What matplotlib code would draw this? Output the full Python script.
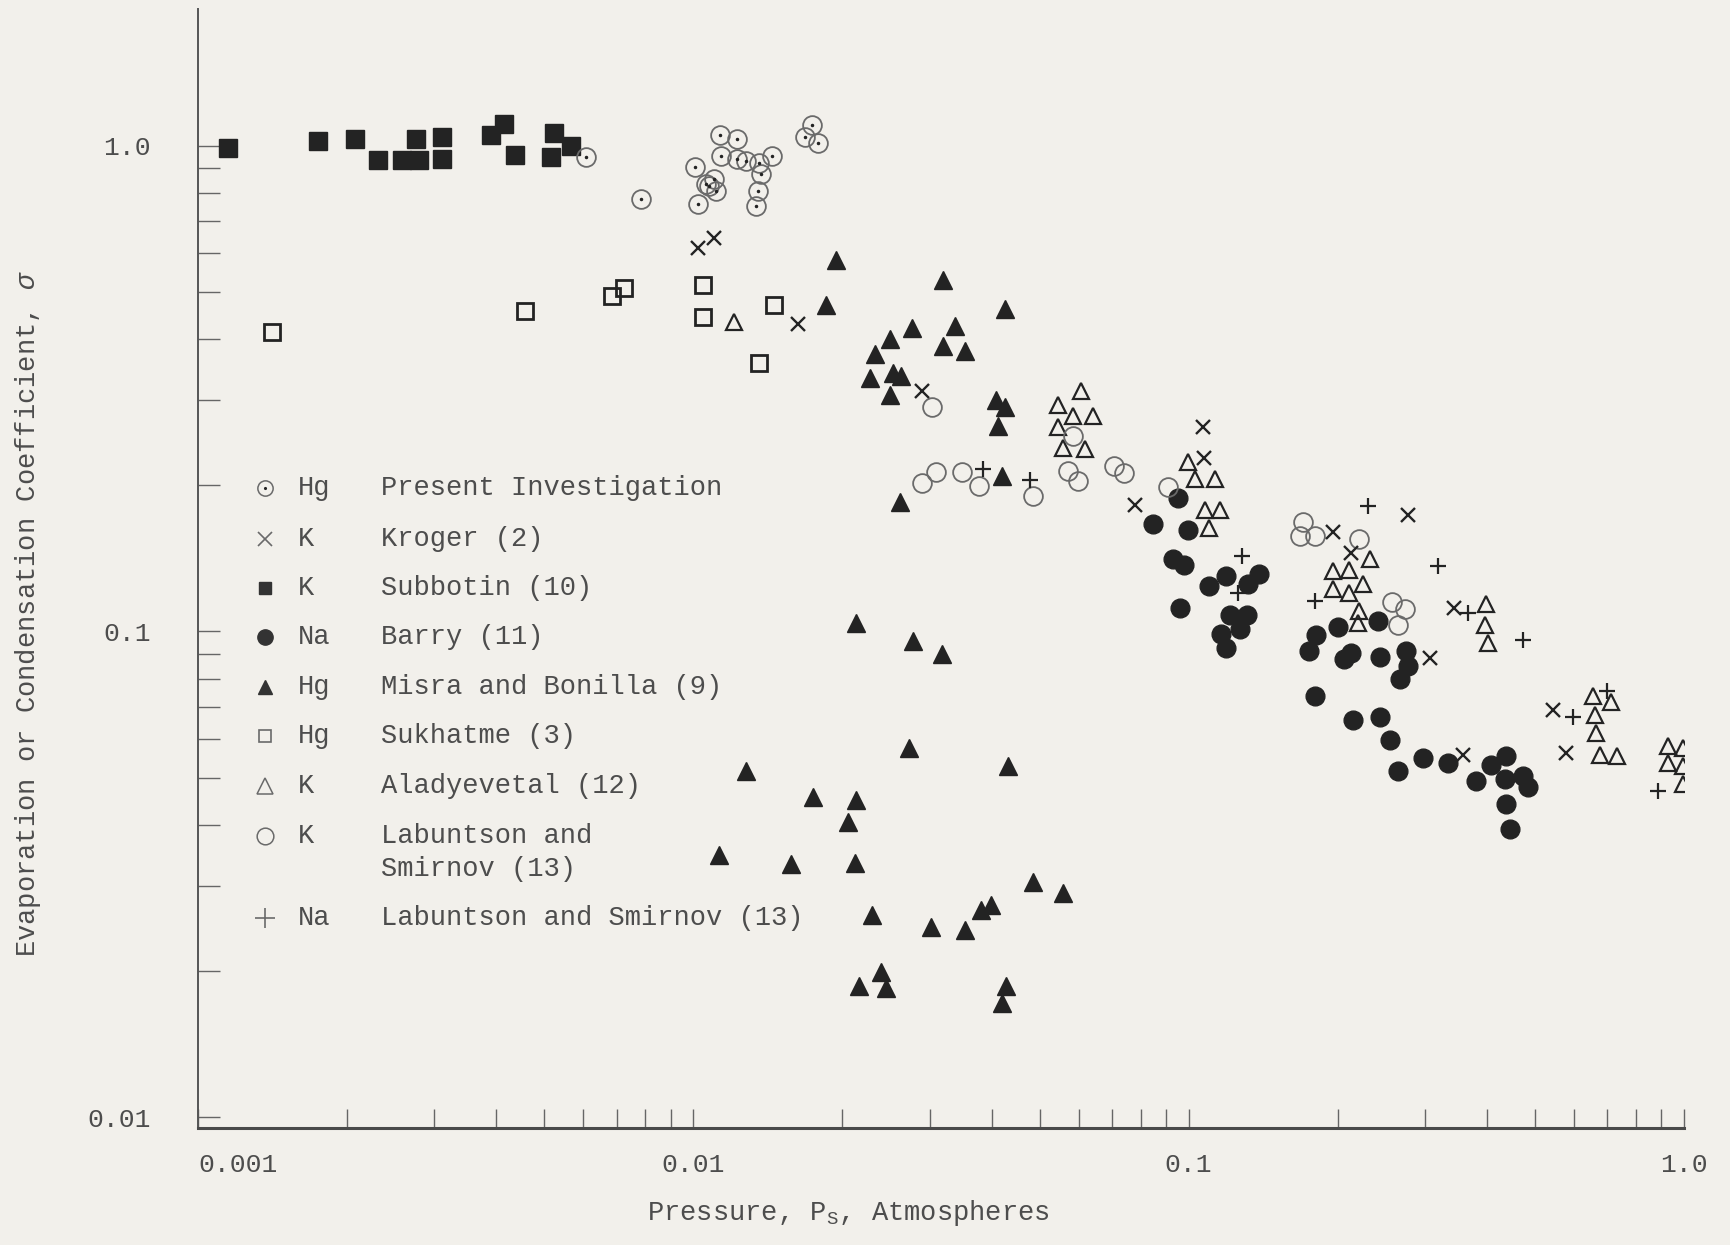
import numpy as np
import matplotlib
matplotlib.use("Agg")
import matplotlib.pyplot as plt
from matplotlib.ticker import LogLocator, NullFormatter

plt.rcParams['font.family'] = ['Liberation Mono', 'DejaVu Sans Mono']
plt.rcParams['mathtext.fontset'] = 'custom'
plt.rcParams['mathtext.rm'] = 'Liberation Mono'
plt.rcParams['mathtext.it'] = 'Liberation Mono:italic'

paper = '#f2f0eb'
ink = '#232323'
grey = '#6a6a6a'
text_c = '#4d4d4d'

# Hg, Present Investigation (dotted circles)
present_p = [0.00607, 0.00784, 0.01133, 0.01225, 0.01135, 0.01225, 0.01278, 0.01359, 0.01442,
             0.0137, 0.0101, 0.0110, 0.01077, 0.0106, 0.0111, 0.0102, 0.01349, 0.0134,
             0.01738, 0.01683, 0.01782]
present_s = [0.947, 0.776, 1.05, 1.03, 0.951, 0.940, 0.930, 0.921, 0.951,
             0.875, 0.903, 0.854, 0.827, 0.834, 0.808, 0.758, 0.808, 0.751,
             1.10, 1.04, 1.014]

# K, Kroger (2)
kroger_p = [0.0102, 0.0110, 0.0163, 0.0290, 0.0778, 0.1067, 0.1076, 0.196, 0.213,
            0.277, 0.344, 0.307, 0.358, 0.545, 0.579]
kroger_s = [0.615, 0.645, 0.429, 0.312, 0.182, 0.264, 0.228, 0.160, 0.145,
            0.174, 0.112, 0.088, 0.0557, 0.0689, 0.0562]

# K, Subbotin (10)
subbotin_p = [0.00115, 0.00175, 0.00207, 0.00231, 0.00258, 0.00279, 0.00275, 0.00311,
              0.00311, 0.0039, 0.00415, 0.00437, 0.00524, 0.00516, 0.00566]
subbotin_s = [0.987, 1.023, 1.03, 0.933, 0.933, 0.933, 1.033, 1.043,
              0.936, 1.05, 1.11, 0.954, 1.06, 0.947, 1.0]

# Na, Barry (11)
barry_p = [0.095, 0.0847, 0.0997, 0.093, 0.098, 0.110, 0.119, 0.132, 0.139, 0.096,
           0.121, 0.131, 0.116, 0.127, 0.119, 0.181, 0.200, 0.241, 0.175, 0.206,
           0.213, 0.243, 0.275, 0.277, 0.267, 0.180, 0.215, 0.243, 0.255, 0.265,
           0.297, 0.334, 0.381, 0.408, 0.438, 0.435, 0.473, 0.484, 0.438, 0.445]
barry_s = [0.188, 0.166, 0.162, 0.141, 0.137, 0.124, 0.130, 0.125, 0.131, 0.112,
           0.108, 0.108, 0.099, 0.101, 0.0925, 0.0985, 0.102, 0.105, 0.091, 0.0877,
           0.0904, 0.0884, 0.091, 0.085, 0.0798, 0.0738, 0.0656, 0.0667, 0.0598, 0.0516,
           0.0549, 0.0537, 0.0492, 0.0532, 0.0553, 0.0496, 0.0504, 0.0478, 0.0441, 0.0393]

# Hg, Misra and Bonilla (9)
misra_p = [0.0194, 0.0185, 0.0319, 0.0425, 0.0277, 0.0337, 0.0249, 0.0319, 0.0353,
           0.0233, 0.0253, 0.0263, 0.0227, 0.0249, 0.0409, 0.0425, 0.0412, 0.0419,
           0.0261, 0.0213, 0.0278, 0.0318, 0.0272, 0.0432, 0.01276, 0.01745, 0.0213,
           0.0205, 0.01128, 0.01574, 0.0212, 0.0485, 0.0558, 0.0230, 0.0302, 0.0353,
           0.0381, 0.0399, 0.0239, 0.0216, 0.0245, 0.0427, 0.0419]
misra_s = [0.582, 0.469, 0.528, 0.461, 0.422, 0.426, 0.399, 0.387, 0.378,
           0.372, 0.340, 0.335, 0.332, 0.307, 0.299, 0.290, 0.265, 0.209,
           0.185, 0.104, 0.0955, 0.0897, 0.0576, 0.0528, 0.0516, 0.0456, 0.0449,
           0.0406, 0.0347, 0.0332, 0.0334, 0.0305, 0.0289, 0.0261, 0.0247, 0.0243,
           0.0267, 0.0273, 0.0199, 0.0186, 0.0185, 0.0186, 0.0172]

# Hg, Sukhatme (3)
sukhatme_p = [0.00141, 0.00458, 0.00685, 0.00726, 0.01045, 0.01045, 0.01458, 0.01355]
sukhatme_s = [0.414, 0.456, 0.490, 0.509, 0.516, 0.443, 0.469, 0.356]

# K, Aladyevetal (12)
aladyev_p = [0.0121, 0.0607, 0.0545, 0.0583, 0.0641, 0.0545, 0.0557, 0.0617, 0.0997,
             0.1028, 0.113, 0.1077, 0.1155, 0.110, 0.232, 0.196, 0.211, 0.196, 0.211,
             0.225, 0.221, 0.220, 0.399, 0.396, 0.402, 0.656, 0.714, 0.661, 0.666,
             0.676, 0.731, 0.929, 0.997, 0.929, 0.997, 0.997]
aladyev_s = [0.433, 0.312, 0.292, 0.277, 0.277, 0.263, 0.239, 0.237, 0.223,
             0.206, 0.206, 0.178, 0.178, 0.163, 0.141, 0.133, 0.134, 0.122, 0.120,
             0.125, 0.110, 0.104, 0.114, 0.103, 0.0948, 0.0738, 0.0715, 0.0673, 0.0618,
             0.0557, 0.0553, 0.058, 0.0575, 0.0537, 0.0528, 0.0485]

# K, Labuntson and Smirnov (13)
labk_p = [0.0303, 0.0290, 0.0309, 0.0349, 0.0377, 0.0485, 0.0570, 0.0597, 0.0583,
          0.0708, 0.0742, 0.0908, 0.170, 0.1675, 0.180, 0.221, 0.257, 0.273, 0.265]
labk_s = [0.290, 0.202, 0.213, 0.213, 0.199, 0.190, 0.214, 0.204, 0.253,
          0.219, 0.212, 0.198, 0.168, 0.157, 0.157, 0.155, 0.115, 0.111, 0.103]

# Na, Labuntson and Smirnov (13)
labna_p = [0.0384, 0.0479, 0.128, 0.126, 0.230, 0.180, 0.319, 0.366, 0.473, 0.597, 0.698, 0.887]
labna_s = [0.216, 0.205, 0.143, 0.120, 0.181, 0.1155, 0.1366, 0.109, 0.0962, 0.0667, 0.0755, 0.047]

legend_elements = ['Hg', 'K', 'K', 'Na', 'Hg', 'Hg', 'K', 'K', 'Na']
legend_names = ['Present Investigation', 'Kroger (2)', 'Subbotin (10)', 'Barry (11)',
                'Misra and Bonilla (9)', 'Sukhatme (3)', 'Aladyevetal (12)',
                'Labuntson and\nSmirnov (13)', 'Labuntson and Smirnov (13)']

fig = plt.figure(figsize=(17.31, 12.45), dpi=100, facecolor=paper)
ax = fig.add_axes([0.1144, 0.094, 0.8584, 0.8988])
ax.set_facecolor(paper)
ax.set_xscale('log')
ax.set_yscale('log')
ax.set_xlim(0.001, 1.0)
ax.set_ylim(0.00951, 1.91)

ax.plot(subbotin_p, subbotin_s, ls='none', marker='s', ms=13, color=ink)
ax.plot(sukhatme_p, sukhatme_s, ls='none', marker='s', ms=12, mfc='none', mec=ink, mew=2.0)
ax.plot(misra_p, misra_s, ls='none', marker='^', ms=12.5, color=ink)
ax.plot(aladyev_p, aladyev_s, ls='none', marker='^', ms=11, mfc='none', mec=ink, mew=1.6)
ax.plot(barry_p, barry_s, ls='none', marker='o', ms=13.5, color=ink)
ax.plot(labk_p, labk_s, ls='none', marker='o', ms=13.5, mfc='none', mec=grey, mew=1.3)
ax.plot(present_p, present_s, ls='none', marker='o', ms=13.5, mfc='none', mec=grey, mew=1.3)
ax.plot(present_p, present_s, ls='none', marker='.', ms=3, color=ink)
ax.plot(kroger_p, kroger_s, ls='none', marker='x', ms=10, mec=ink, mew=1.7)
ax.plot(labna_p, labna_s, ls='none', marker='+', ms=12, mec=ink, mew=1.6)

for side in ['top', 'right']:
    ax.spines[side].set_visible(False)
ax.spines['left'].set_linewidth(1.4)
ax.spines['left'].set_color('#555555')
ax.spines['bottom'].set_linewidth(2.2)
ax.spines['bottom'].set_color('#4a4a4a')

ax.set_xticks([0.001, 0.01, 0.1, 1.0], ['0.001', '0.01', '0.1', '1.0'])
ax.set_yticks([0.01, 0.1, 1.0], ['0.01', '0.1', '1.0'])
ax.xaxis.set_minor_locator(LogLocator(base=10, subs=np.arange(2, 10)))
ax.yaxis.set_minor_locator(LogLocator(base=10, subs=np.arange(2, 10)))
ax.xaxis.set_minor_formatter(NullFormatter())
ax.yaxis.set_minor_formatter(NullFormatter())
ax.tick_params(axis='x', which='both', direction='in', length=14, width=1.0,
               color='#666666', labelsize=19, labelcolor=text_c, pad=18)
ax.tick_params(axis='y', which='both', direction='in', length=16, width=1.0,
               color='#666666', labelsize=19, labelcolor=text_c, pad=34)
ax.get_xticklabels()[0].set_horizontalalignment('left')

fig.text(28 / 1731, 1 - 613 / 1245, 'Evaporation or Condensation Coefficient, $\\sigma$',
         rotation=90, ha='center', va='center', fontsize=19.5, color=text_c)
fig.text(848 / 1731, 1 - 1213 / 1245, 'Pressure, P$_\\mathrm{S}$, Atmospheres',
         ha='center', va='center', fontsize=19.5, color=text_c)

# legend, drawn by hand: marker, element, source
rows_y = [488, 539, 588, 637, 687, 736, 786, 836, 918]
styles = [dict(marker='o', ms=11, mfc='none', mec=grey, mew=1.1),
          dict(marker='x', ms=10, mec=grey, mew=1.2),
          dict(marker='s', ms=9, color='#333333'),
          dict(marker='o', ms=11, color='#333333'),
          dict(marker='^', ms=10, color='#333333'),
          dict(marker='s', ms=9, mfc='none', mec=grey, mew=1.2),
          dict(marker='^', ms=11, mfc='none', mec=grey, mew=1.1),
          dict(marker='o', ms=12, mfc='none', mec=grey, mew=1.1),
          dict(marker='+', ms=14, mec=grey, mew=1.2)]
for i, (yy, el, nm, st) in enumerate(zip(rows_y, legend_elements, legend_names, styles)):
    fy = 1 - yy / 1245
    ax.plot([265 / 1731], [fy], ls='none', transform=fig.transFigure, clip_on=False, **st)
    if i == 0:
        ax.plot([265 / 1731], [fy], ls='none', marker='.', ms=2.5, color=ink,
                transform=fig.transFigure, clip_on=False)
    fig.text(298 / 1731, fy, el, ha='left', va='center', fontsize=19.5, color=text_c)
    for k, line in enumerate(nm.split('\n')):
        fig.text(381 / 1731, fy - k * 33 / 1245, line, ha='left', va='center',
                 fontsize=19.5, color=text_c)

fig.savefig('out.png', dpi=100, facecolor=paper)
